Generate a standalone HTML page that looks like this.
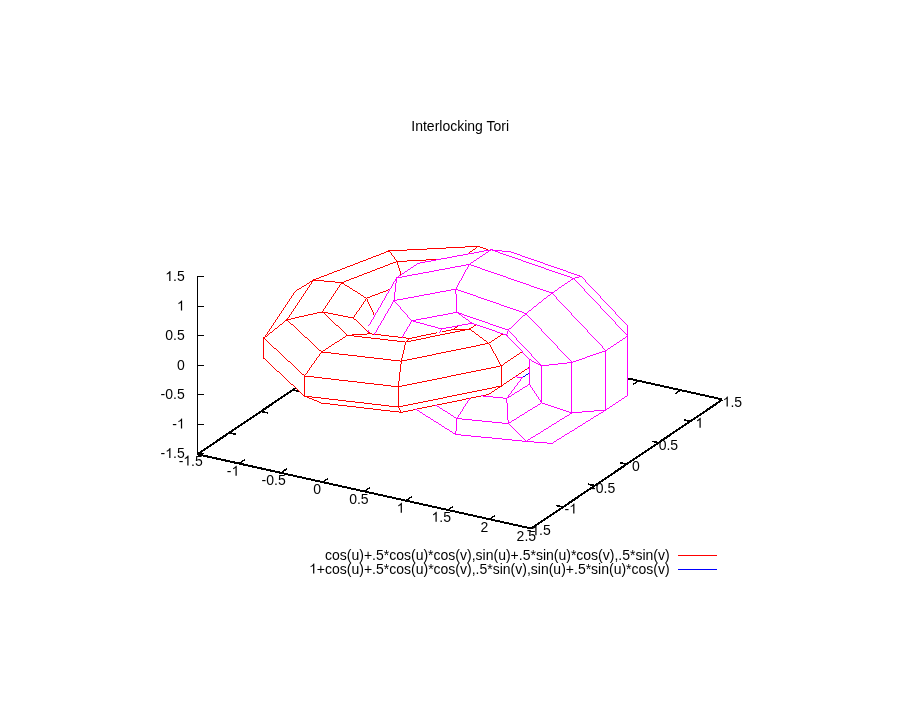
<!DOCTYPE html>
<html><head><meta charset="utf-8"><title>Interlocking Tori</title><style>
html,body{margin:0;padding:0;background:#fff}
body{width:920px;height:704px;position:relative;overflow:hidden;font-family:"Liberation Sans",sans-serif}
</style></head><body>
<svg width="920" height="704" viewBox="0 0 920 704" style="position:absolute;left:0;top:0;will-change:transform">
<g shape-rendering="crispEdges" stroke="none">
<line x1="197.38" y1="454.27" x2="531.21" y2="528.51" stroke="#000" stroke-width="2" fill="none"/>
<line x1="531.21" y1="528.51" x2="722.11" y2="399.87" stroke="#000" stroke-width="2" fill="none"/>
<line x1="722.11" y1="399.37" x2="628.09" y2="378.46" stroke="#000" stroke-width="2" fill="none"/>
<line x1="295.38" y1="388.23" x2="197.38" y2="454.27" stroke="#000" stroke-width="2" fill="none"/>
<polygon points="238.61,463.04 244.83,458.84 244.83,460.54 238.61,464.74" fill="#000"/>
<polygon points="280.34,472.32 286.56,468.12 286.56,469.82 280.34,474.02" fill="#000"/>
<polygon points="322.07,481.60 328.29,477.40 328.29,479.10 322.07,483.30" fill="#000"/>
<polygon points="363.79,490.88 370.02,486.68 370.02,488.38 363.79,492.58" fill="#000"/>
<polygon points="405.52,500.16 411.75,495.96 411.75,497.66 405.52,501.86" fill="#000"/>
<polygon points="447.25,509.44 453.47,505.24 453.47,506.94 447.25,511.14" fill="#000"/>
<polygon points="488.98,518.72 495.20,514.52 495.20,516.22 488.98,520.42" fill="#000"/>
<polygon points="556.37,504.74 563.52,506.33 563.52,508.03 556.37,506.44" fill="#000"/>
<polygon points="588.19,483.30 595.34,484.89 595.34,486.59 588.19,485.00" fill="#000"/>
<polygon points="620.01,461.86 627.16,463.45 627.16,465.15 620.01,463.56" fill="#000"/>
<polygon points="651.83,440.42 658.98,442.01 658.98,443.71 651.83,442.12" fill="#000"/>
<polygon points="683.65,418.98 690.80,420.57 690.80,422.27 683.65,420.68" fill="#000"/>
<polygon points="674.66,393.10 680.89,388.90 680.89,390.60 674.66,394.80" fill="#000"/>
<polygon points="632.93,383.82 639.16,379.62 639.16,381.32 632.93,385.52" fill="#000"/>
<polygon points="228.70,431.87 235.85,433.46 235.85,435.16 228.70,433.57" fill="#000"/>
<polygon points="260.52,410.43 267.67,412.02 267.67,413.72 260.52,412.13" fill="#000"/>
<polygon points="292.34,388.99 299.49,390.58 299.49,392.28 292.34,390.69" fill="#000"/>
<rect x="197" y="276" width="1" height="178" fill="#000"/>
<rect x="197" y="276" width="7" height="1" fill="#000"/>
<rect x="197" y="306" width="7" height="1" fill="#000"/>
<rect x="197" y="335" width="7" height="1" fill="#000"/>
<rect x="197" y="365" width="7" height="1" fill="#000"/>
<rect x="197" y="394" width="7" height="1" fill="#000"/>
<rect x="197" y="424" width="7" height="1" fill="#000"/>
<rect x="197" y="453" width="7" height="1" fill="#000"/>
<polygon points="368.54,330.28 367.23,332.23 368.23,332.23 369.54,330.28" fill="#ff0000"/>
<polygon points="295.19,290.85 263.09,338.75 264.09,338.75 296.19,290.85" fill="#ff0000"/>
<polygon points="294.85,291.16 314.20,279.15 314.20,280.15 294.85,292.16" fill="#ff0000"/>
<polygon points="313.54,279.46 286.14,320.35 287.14,320.35 314.54,279.46" fill="#ff0000"/>
<polygon points="313.20,279.42 342.31,282.26 342.31,283.26 313.20,280.42" fill="#ff0000"/>
<polygon points="341.65,282.21 321.45,312.34 322.45,312.34 342.65,282.21" fill="#ff0000"/>
<polygon points="341.31,281.89 367.03,298.12 367.03,299.12 341.31,282.89" fill="#ff0000"/>
<polygon points="366.36,297.80 352.50,318.49 353.50,318.49 367.36,297.80" fill="#ff0000"/>
<polygon points="365.80,297.80 374.31,316.25 375.31,316.25 366.80,297.80" fill="#ff0000"/>
<polygon points="263.43,357.67 265.23,358.65 265.23,359.65 263.43,358.67" fill="#ff0000"/>
<polygon points="263.43,357.48 305.10,396.12 305.10,397.12 263.43,358.48" fill="#ff0000"/>
<polygon points="263.43,337.75 263.43,358.94 264.43,358.94 264.43,337.75" fill="#ff0000"/>
<polygon points="263.43,337.28 305.10,375.93 305.10,376.93 263.43,338.28" fill="#ff0000"/>
<polygon points="263.43,338.15 287.48,318.95 287.48,319.95 263.43,339.15" fill="#ff0000"/>
<polygon points="286.48,318.88 322.07,351.89 322.07,352.89 286.48,319.88" fill="#ff0000"/>
<polygon points="286.48,319.46 322.79,311.23 322.79,312.23 286.48,320.46" fill="#ff0000"/>
<polygon points="321.79,310.88 348.06,335.24 348.06,336.24 321.79,311.88" fill="#ff0000"/>
<polygon points="321.79,311.25 353.84,317.59 353.84,318.59 321.79,312.25" fill="#ff0000"/>
<polygon points="352.84,317.02 370.91,333.78 370.91,334.78 352.84,318.02" fill="#ff0000"/>
<polygon points="352.49,317.49 353.50,318.92 354.50,318.92 353.49,317.49" fill="#ff0000"/>
<polygon points="321.07,402.49 401.79,411.87 401.79,412.87 321.07,403.49" fill="#ff0000"/>
<polygon points="304.10,395.46 322.07,402.76 322.07,403.76 304.10,396.46" fill="#ff0000"/>
<polygon points="304.10,395.60 398.85,406.61 398.85,407.61 304.10,396.60" fill="#ff0000"/>
<polygon points="304.10,375.47 304.10,396.66 305.10,396.66 305.10,375.47" fill="#ff0000"/>
<polygon points="304.10,375.41 398.85,386.41 398.85,387.41 304.10,376.41" fill="#ff0000"/>
<polygon points="321.42,351.42 303.75,376.47 304.75,376.47 322.42,351.42" fill="#ff0000"/>
<polygon points="321.07,351.36 401.79,360.74 401.79,361.74 321.07,352.36" fill="#ff0000"/>
<polygon points="321.07,351.74 348.06,334.46 348.06,335.46 321.07,352.74" fill="#ff0000"/>
<polygon points="347.06,334.72 406.30,341.60 406.30,342.60 347.06,335.72" fill="#ff0000"/>
<polygon points="347.06,334.81 370.91,333.29 370.91,334.29 347.06,335.81" fill="#ff0000"/>
<polygon points="369.91,333.26 410.26,337.95 410.26,338.95 369.91,334.26" fill="#ff0000"/>
<polygon points="401.09,411.51 400.61,412.81 401.61,412.81 402.09,411.51" fill="#ff0000"/>
<polygon points="400.79,411.92 489.34,393.83 489.34,394.83 400.79,412.92" fill="#ff0000"/>
<polygon points="397.57,406.55 401.07,412.81 402.07,412.81 398.57,406.55" fill="#ff0000"/>
<polygon points="397.85,406.65 501.80,385.42 501.80,386.42 397.85,407.65" fill="#ff0000"/>
<polygon points="397.85,386.36 397.85,407.55 398.85,407.55 398.85,386.36" fill="#ff0000"/>
<polygon points="397.85,386.46 501.80,365.22 501.80,366.22 397.85,387.46" fill="#ff0000"/>
<polygon points="400.85,360.68 397.79,387.36 398.79,387.36 401.85,360.68" fill="#ff0000"/>
<polygon points="400.79,360.79 489.34,342.70 489.34,343.70 400.79,361.79" fill="#ff0000"/>
<polygon points="405.42,341.54 400.67,361.68 401.67,361.68 406.42,341.54" fill="#ff0000"/>
<polygon points="405.30,341.65 470.26,328.38 470.26,329.38 405.30,342.65" fill="#ff0000"/>
<polygon points="405.30,342.00 410.26,337.43 410.26,338.43 405.30,343.00" fill="#ff0000"/>
<polygon points="409.26,337.99 436.50,332.43 436.50,333.43 409.26,338.99" fill="#ff0000"/>
<polygon points="441.50,331.41 453.48,328.96 453.48,329.96 441.50,332.41" fill="#ff0000"/>
<polygon points="487.96,393.59 489.34,394.12 489.34,395.12 487.96,394.59" fill="#ff0000"/>
<polygon points="488.34,394.27 501.80,385.18 501.80,386.18 488.34,395.27" fill="#ff0000"/>
<polygon points="500.80,385.85 529.95,366.21 529.95,367.21 500.80,386.85" fill="#ff0000"/>
<polygon points="500.80,365.33 500.80,386.52 501.80,386.52 501.80,365.33" fill="#ff0000"/>
<polygon points="500.80,365.66 522.59,350.98 522.59,351.98 500.80,366.66" fill="#ff0000"/>
<polygon points="488.07,342.80 501.08,366.33 502.08,366.33 489.07,342.80" fill="#ff0000"/>
<polygon points="488.34,343.13 503.22,333.11 503.22,334.11 488.34,344.13" fill="#ff0000"/>
<polygon points="469.26,328.10 489.34,343.17 489.34,344.17 469.26,329.10" fill="#ff0000"/>
<polygon points="469.26,328.81 476.62,323.85 476.62,324.85 469.26,329.81" fill="#ff0000"/>
<polygon points="452.48,329.08 470.26,328.46 470.26,329.46 452.48,330.08" fill="#ff0000"/>
<polygon points="452.48,329.40 459.12,324.93 459.12,325.93 452.48,330.40" fill="#ff0000"/>
<polygon points="477.74,245.67 489.39,249.88 489.39,250.88 477.74,246.67" fill="#ff0000"/>
<polygon points="477.74,245.59 479.22,246.36 479.22,247.36 477.74,246.59" fill="#ff0000"/>
<polygon points="388.74,250.47 478.74,245.82 478.74,246.82 388.74,251.47" fill="#ff0000"/>
<polygon points="467.27,253.83 478.74,245.49 478.74,246.49 467.27,254.83" fill="#ff0000"/>
<polygon points="396.49,261.03 439.43,258.82 439.43,259.82 396.49,262.03" fill="#ff0000"/>
<polygon points="389.14,250.44 388.11,251.72 389.11,251.72 390.14,250.44" fill="#ff0000"/>
<polygon points="313.20,279.66 389.74,250.25 389.74,251.25 313.20,280.66" fill="#ff0000"/>
<polygon points="388.37,250.44 396.86,262.01 397.86,262.01 389.37,250.44" fill="#ff0000"/>
<polygon points="341.31,282.40 397.49,260.81 397.49,261.81 341.31,283.40" fill="#ff0000"/>
<polygon points="396.34,261.01 400.74,275.49 401.74,275.49 397.34,261.01" fill="#ff0000"/>
<polygon points="366.03,298.00 390.33,288.66 390.33,289.66 366.03,299.00" fill="#ff0000"/>
<rect x="368" y="331" width="1" height="1" fill="#0000ff"/>
<polygon points="367.68,329.68 367.98,332.44 368.98,332.44 368.68,329.68" fill="#ff00ff"/>
<polygon points="435.41,404.50 457.41,418.37 457.41,419.37 435.41,405.50" fill="#ff00ff"/>
<polygon points="415.45,408.55 456.31,434.32 456.31,435.32 415.45,409.55" fill="#ff00ff"/>
<polygon points="514.53,376.23 522.84,377.04 522.84,378.04 514.53,377.23" fill="#ff00ff"/>
<polygon points="481.29,395.36 507.27,397.89 507.27,398.89 481.29,396.36" fill="#ff00ff"/>
<polygon points="469.78,397.76 456.09,419.06 457.09,419.06 470.78,397.76" fill="#ff00ff"/>
<polygon points="456.41,418.01 508.75,423.12 508.75,424.12 456.41,419.01" fill="#ff00ff"/>
<polygon points="456.44,418.06 455.27,435.01 456.27,435.01 457.44,418.06" fill="#ff00ff"/>
<polygon points="455.31,433.96 526.58,440.92 526.58,441.92 455.31,434.96" fill="#ff00ff"/>
<polygon points="455.31,433.98 457.45,434.11 457.45,435.11 455.31,434.98" fill="#ff00ff"/>
<polygon points="549.77,442.71 552.43,442.97 552.43,443.97 549.77,443.71" fill="#ff00ff"/>
<polygon points="526.54,368.22 529.96,368.55 529.96,369.55 526.54,369.22" fill="#ff00ff"/>
<polygon points="521.84,377.31 530.00,372.24 530.00,373.24 521.84,378.31" fill="#0000ff"/>
<polygon points="522.21,377.00 505.90,398.84 506.90,398.84 523.21,377.00" fill="#ff00ff"/>
<polygon points="506.27,398.15 529.91,383.48 529.91,384.48 506.27,399.15" fill="#ff00ff"/>
<polygon points="506.24,397.84 507.78,424.07 508.78,424.07 507.24,397.84" fill="#ff00ff"/>
<polygon points="507.75,423.38 542.26,401.96 542.26,402.96 507.75,424.38" fill="#ff00ff"/>
<polygon points="507.75,422.57 526.58,441.37 526.58,442.37 507.75,423.57" fill="#ff00ff"/>
<polygon points="525.58,441.18 572.45,412.09 572.45,413.09 525.58,442.18" fill="#ff00ff"/>
<polygon points="525.58,440.83 552.43,442.96 552.43,443.96 525.58,441.83" fill="#ff00ff"/>
<polygon points="551.43,443.23 606.36,409.13 606.36,410.13 551.43,444.23" fill="#ff00ff"/>
<polygon points="551.43,443.25 553.41,441.92 553.41,442.92 551.43,444.25" fill="#ff00ff"/>
<polygon points="521.84,377.13 523.35,376.73 523.35,377.73 521.84,378.13" fill="#ff00ff"/>
<polygon points="529.56,383.24 528.60,384.79 529.60,384.79 530.56,383.24" fill="#ff00ff"/>
<polygon points="528.91,358.87 528.91,384.79 529.91,384.79 529.91,358.87" fill="#ff00ff"/>
<polygon points="528.57,383.79 541.59,403.27 542.59,403.27 529.57,383.79" fill="#ff00ff"/>
<polygon points="541.26,365.39 541.26,403.27 542.26,403.27 542.26,365.39" fill="#ff00ff"/>
<polygon points="541.26,402.10 572.45,412.57 572.45,413.57 541.26,403.10" fill="#ff00ff"/>
<polygon points="571.45,361.92 571.45,413.40 572.45,413.40 572.45,361.92" fill="#ff00ff"/>
<polygon points="571.45,412.44 606.36,409.39 606.36,410.39 571.45,413.44" fill="#ff00ff"/>
<polygon points="605.36,350.08 605.36,410.44 606.36,410.44 606.36,350.08" fill="#ff00ff"/>
<polygon points="605.36,409.78 628.13,394.44 628.13,395.44 605.36,410.78" fill="#ff00ff"/>
<polygon points="627.13,335.41 627.13,395.77 628.13,395.77 628.13,335.41" fill="#ff00ff"/>
<polygon points="627.09,393.80 627.14,395.77 628.14,395.77 628.09,393.80" fill="#ff00ff"/>
<polygon points="626.56,324.78 626.56,326.79 627.56,326.79 627.56,324.78" fill="#ff00ff"/>
<polygon points="505.80,334.75 529.38,359.87 530.38,359.87 506.80,334.75" fill="#ff00ff"/>
<polygon points="528.91,358.61 542.26,365.66 542.26,366.66 528.91,359.61" fill="#ff00ff"/>
<polygon points="507.28,329.69 541.72,366.39 542.72,366.39 508.28,329.69" fill="#ff00ff"/>
<polygon points="541.26,365.45 572.45,361.86 572.45,362.86 541.26,366.45" fill="#ff00ff"/>
<polygon points="525.11,313.04 571.92,362.92 572.92,362.92 526.11,313.04" fill="#ff00ff"/>
<polygon points="571.45,362.09 606.36,349.90 606.36,350.90 571.45,363.09" fill="#ff00ff"/>
<polygon points="550.96,292.61 605.83,351.08 606.83,351.08 551.96,292.61" fill="#ff00ff"/>
<polygon points="605.36,350.41 628.13,335.07 628.13,336.07 605.36,351.41" fill="#ff00ff"/>
<polygon points="572.72,277.94 627.60,336.41 628.60,336.41 573.72,277.94" fill="#ff00ff"/>
<polygon points="626.53,324.78 627.15,336.41 628.15,336.41 627.53,324.78" fill="#ff00ff"/>
<polygon points="580.22,275.91 627.03,325.78 628.03,325.78 581.22,275.91" fill="#ff00ff"/>
<polygon points="471.58,322.54 507.27,334.92 507.27,335.92 471.58,323.54" fill="#ff00ff"/>
<polygon points="507.89,329.69 506.12,335.75 507.12,335.75 508.89,329.69" fill="#ff00ff"/>
<polygon points="456.41,311.69 508.75,329.86 508.75,330.86 456.41,312.69" fill="#ff00ff"/>
<polygon points="507.75,330.15 526.58,312.58 526.58,313.58 507.75,331.15" fill="#ff00ff"/>
<polygon points="455.31,288.48 526.58,313.22 526.58,314.22 455.31,289.48" fill="#ff00ff"/>
<polygon points="525.58,313.44 552.43,292.21 552.43,293.21 525.58,314.44" fill="#ff00ff"/>
<polygon points="468.79,263.75 552.43,292.78 552.43,293.78 468.79,264.75" fill="#ff00ff"/>
<polygon points="551.43,292.95 574.19,277.61 574.19,278.61 551.43,293.95" fill="#ff00ff"/>
<polygon points="490.56,249.08 574.19,278.12 574.19,279.12 490.56,250.08" fill="#ff00ff"/>
<polygon points="573.19,278.08 581.69,275.77 581.69,276.77 573.19,279.08" fill="#ff00ff"/>
<polygon points="510.42,251.34 581.69,276.08 581.69,277.08 510.42,252.34" fill="#ff00ff"/>
<polygon points="441.08,328.48 472.58,322.62 472.58,323.62 441.08,329.48" fill="#ff00ff"/>
<polygon points="456.41,311.51 472.58,323.07 472.58,324.07 456.41,312.51" fill="#ff00ff"/>
<polygon points="411.26,320.36 457.41,311.77 457.41,312.77 411.26,321.36" fill="#ff00ff"/>
<polygon points="455.28,288.65 456.43,312.87 457.43,312.87 456.28,288.65" fill="#ff00ff"/>
<polygon points="393.51,300.24 456.31,288.56 456.31,289.56 393.51,301.24" fill="#ff00ff"/>
<polygon points="469.07,263.92 455.03,289.65 456.03,289.65 470.07,263.92" fill="#ff00ff"/>
<polygon points="396.12,277.54 469.79,263.83 469.79,264.83 396.12,278.54" fill="#ff00ff"/>
<polygon points="468.79,264.26 491.56,248.92 491.56,249.92 468.79,265.26" fill="#ff00ff"/>
<polygon points="417.89,262.87 491.56,249.17 491.56,250.17 417.89,263.87" fill="#ff00ff"/>
<polygon points="490.56,249.20 511.42,251.57 511.42,252.57 490.56,250.20" fill="#ff00ff"/>
<polygon points="441.08,328.52 443.20,327.94 443.20,328.94 441.08,329.52" fill="#ff00ff"/>
<polygon points="441.37,328.38 438.68,333.01 439.68,333.01 442.37,328.38" fill="#ff00ff"/>
<polygon points="411.26,320.13 442.08,328.52 442.08,329.52 411.26,321.13" fill="#ff00ff"/>
<polygon points="411.55,320.27 401.25,337.99 402.25,337.99 412.55,320.27" fill="#ff00ff"/>
<polygon points="393.07,300.15 411.70,321.27 412.70,321.27 394.07,300.15" fill="#ff00ff"/>
<polygon points="393.80,300.15 373.81,334.55 374.81,334.55 394.80,300.15" fill="#ff00ff"/>
<polygon points="396.18,277.44 393.45,301.15 394.45,301.15 397.18,277.44" fill="#ff00ff"/>
<polygon points="396.42,277.44 368.14,326.11 369.14,326.11 397.42,277.44" fill="#ff00ff"/>
<polygon points="396.12,277.78 418.89,262.44 418.89,263.44 396.12,278.78" fill="#ff00ff"/>
<polygon points="417.89,262.77 419.50,262.79 419.50,263.79 417.89,263.77" fill="#ff00ff"/>
<rect x="678" y="555" width="39" height="1" fill="#ff0000"/>
<rect x="678" y="569" width="39" height="1" fill="#0000ff"/>
</g>
<g font-family="'Liberation Sans', sans-serif" font-size="14" fill="#000">
<text x="460.20" y="131.00" text-anchor="middle">Interlocking Tori</text>
<text x="669.70" y="559.60" text-anchor="end">cos(u)+.5*cos(u)*cos(v),sin(u)+.5*sin(u)*cos(v),.5*sin(v)</text>
<text x="669.70" y="573.60" text-anchor="end">+cos(u)+.5*cos(u)*cos(v),.5*sin(v),sin(u)+.5*sin(u)*cos(v)</text>
<path d="M763 0L583 0L583 1147Q518 1085 412.5 1023Q307 961 223 930L223 1104Q374 1175 487 1276Q600 1377 647 1472L763 1472Z" transform="translate(309.10,573.6) scale(0.0068359,-0.0068359)"/>
<path d="M763 0L583 0L583 1147Q518 1085 412.5 1023Q307 961 223 930L223 1104Q374 1175 487 1276Q600 1377 647 1472L763 1472Z" transform="translate(165.24,281.00) scale(0.0068359,-0.0068359)"/>
<text x="173.02" y="281.00" text-anchor="start">.5</text>
<path d="M763 0L583 0L583 1147Q518 1085 412.5 1023Q307 961 223 930L223 1104Q374 1175 487 1276Q600 1377 647 1472L763 1472Z" transform="translate(176.91,310.52) scale(0.0068359,-0.0068359)"/>
<text x="184.70" y="340.04" text-anchor="end">0.5</text>
<text x="184.70" y="369.56" text-anchor="end">0</text>
<text x="184.70" y="399.08" text-anchor="end">-0.5</text>
<text x="172.25" y="428.60" text-anchor="start">-</text>
<path d="M763 0L583 0L583 1147Q518 1085 412.5 1023Q307 961 223 930L223 1104Q374 1175 487 1276Q600 1377 647 1472L763 1472Z" transform="translate(176.91,428.60) scale(0.0068359,-0.0068359)"/>
<text x="160.58" y="458.12" text-anchor="start">-</text>
<path d="M763 0L583 0L583 1147Q518 1085 412.5 1023Q307 961 223 930L223 1104Q374 1175 487 1276Q600 1377 647 1472L763 1472Z" transform="translate(165.24,458.12) scale(0.0068359,-0.0068359)"/>
<text x="173.03" y="458.12" text-anchor="start">.5</text>
<text x="178.65" y="465.50" text-anchor="start">-</text>
<path d="M763 0L583 0L583 1147Q518 1085 412.5 1023Q307 961 223 930L223 1104Q374 1175 487 1276Q600 1377 647 1472L763 1472Z" transform="translate(183.31,465.50) scale(0.0068359,-0.0068359)"/>
<text x="191.10" y="465.50" text-anchor="start">.5</text>
<text x="226.85" y="475.70" text-anchor="start">-</text>
<path d="M763 0L583 0L583 1147Q518 1085 412.5 1023Q307 961 223 930L223 1104Q374 1175 487 1276Q600 1377 647 1472L763 1472Z" transform="translate(231.51,475.70) scale(0.0068359,-0.0068359)"/>
<text x="261.55" y="485.00" text-anchor="start">-0.5</text>
<text x="313.30" y="493.70" text-anchor="start">0</text>
<text x="349.20" y="503.80" text-anchor="start">0.5</text>
<path d="M763 0L583 0L583 1147Q518 1085 412.5 1023Q307 961 223 930L223 1104Q374 1175 487 1276Q600 1377 647 1472L763 1472Z" transform="translate(396.70,512.80) scale(0.0068359,-0.0068359)"/>
<path d="M763 0L583 0L583 1147Q518 1085 412.5 1023Q307 961 223 930L223 1104Q374 1175 487 1276Q600 1377 647 1472L763 1472Z" transform="translate(431.50,521.80) scale(0.0068359,-0.0068359)"/>
<text x="439.29" y="521.80" text-anchor="start">.5</text>
<text x="480.50" y="531.60" text-anchor="start">2</text>
<text x="516.60" y="540.80" text-anchor="start">2.5</text>
<text x="526.65" y="535.30" text-anchor="start">-</text>
<path d="M763 0L583 0L583 1147Q518 1085 412.5 1023Q307 961 223 930L223 1104Q374 1175 487 1276Q600 1377 647 1472L763 1472Z" transform="translate(531.31,535.30) scale(0.0068359,-0.0068359)"/>
<text x="539.10" y="535.30" text-anchor="start">.5</text>
<text x="564.55" y="513.60" text-anchor="start">-</text>
<path d="M763 0L583 0L583 1147Q518 1085 412.5 1023Q307 961 223 930L223 1104Q374 1175 487 1276Q600 1377 647 1472L763 1472Z" transform="translate(569.21,513.60) scale(0.0068359,-0.0068359)"/>
<text x="591.05" y="492.70" text-anchor="start">-0.5</text>
<text x="632.10" y="470.70" text-anchor="start">0</text>
<text x="658.70" y="449.80" text-anchor="start">0.5</text>
<path d="M763 0L583 0L583 1147Q518 1085 412.5 1023Q307 961 223 930L223 1104Q374 1175 487 1276Q600 1377 647 1472L763 1472Z" transform="translate(695.50,427.80) scale(0.0068359,-0.0068359)"/>
<path d="M763 0L583 0L583 1147Q518 1085 412.5 1023Q307 961 223 930L223 1104Q374 1175 487 1276Q600 1377 647 1472L763 1472Z" transform="translate(722.60,406.60) scale(0.0068359,-0.0068359)"/>
<text x="730.39" y="406.60" text-anchor="start">.5</text>
</g>
</svg>
</body></html>
